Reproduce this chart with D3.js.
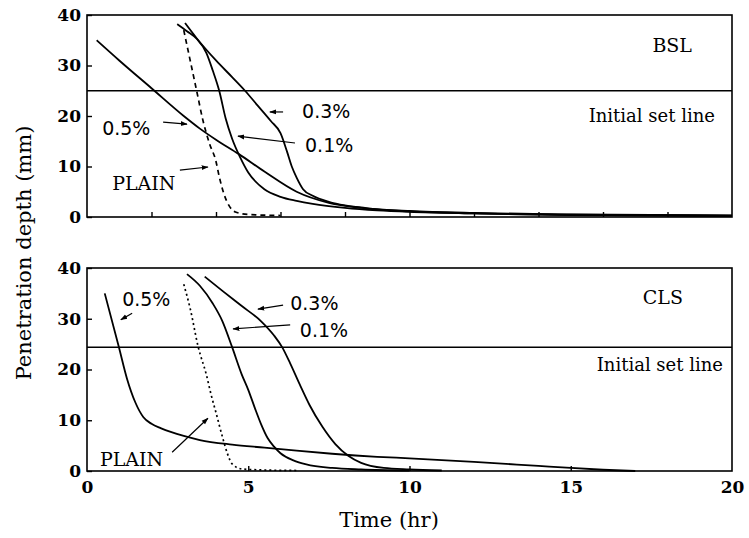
<!DOCTYPE html>
<html><head><meta charset="utf-8">
<script src="https://cdn.jsdelivr.net/npm/d3@7"></script>
<style>body{margin:0;background:#fff}</style>
</head><body>
<svg id="chart" width="749" height="538"></svg>
<script>
// ---- Data (Time hr, Penetration depth mm) ----
const xTicks = [0, 5, 10, 15, 20];
const yTicks = [0, 10, 20, 30, 40];
const panelNames = ["BSL", "CLS"];
const initialSet = [25, 24.4];

// BSL panel
const bslPlainT = [3.0, 3.2, 3.4, 3.6, 3.8, 4.0, 4.1, 4.25, 4.4, 4.6, 5.0, 6.0];
const bslPlainV = [37, 31, 25, 19, 14.5, 11, 8, 4.5, 2.3, 1.0, 0.5, 0.3];
const bsl01T = [2.8, 3.1, 3.4, 3.7, 3.9, 4.1, 4.3, 4.5, 4.75, 5.0, 5.5, 6.0, 6.5, 7.0, 8.0, 9.0, 10, 12, 15, 20];
const bsl01V = [38.2, 36.8, 35.3, 32.5, 29, 25, 19.5, 15.5, 11.8, 8.8, 5.5, 4.0, 3.2, 2.6, 1.8, 1.3, 1.0, 0.7, 0.4, 0.2];
const bsl03T = [3.04, 3.4, 4.0, 4.5, 4.9, 5.3, 5.7, 6.0, 6.2, 6.35, 6.5, 6.7, 7.0, 7.5, 8.0, 8.5, 9.0, 10, 12, 15, 20];
const bsl03V = [38.4, 35.4, 31, 27.7, 25, 22, 19, 16.6, 13, 10, 7.8, 5.5, 4.2, 3.0, 2.3, 1.9, 1.5, 1.1, 0.7, 0.45, 0.25];
const bsl05T = [0.3, 1.0, 2.0, 3.0, 3.5, 4.0, 4.7, 5.5, 6.5, 7.5, 8.5, 10, 12, 15, 20];
const bsl05V = [35, 31, 25.5, 20, 17.5, 15.3, 12.5, 9, 5, 2.8, 1.8, 1.2, 0.8, 0.5, 0.3];

// CLS panel
const clsPlainT = [3.0, 3.2, 3.45, 3.7, 3.85, 4.0, 4.2, 4.35, 4.5, 4.8, 5.5, 6.5];
const clsPlainV = [36.8, 32, 24.4, 19, 15, 11.5, 6.7, 3.5, 1.4, 0.4, 0.2, 0.1];
const cls01T = [3.1, 3.5, 3.9, 4.2, 4.5, 4.8, 5.0, 5.2, 5.4, 5.6, 5.8, 6.0, 6.4, 6.8, 7.6, 8.5, 10];
const cls01V = [38.8, 36.5, 33, 29.5, 24.4, 19, 16, 12.5, 9.2, 6.5, 4.8, 3.5, 2.1, 1.3, 0.6, 0.3, 0.1];
const cls03T = [3.65, 4.2, 4.8, 5.4, 5.8, 6.05, 6.3, 6.6, 6.9, 7.3, 7.7, 8.1, 8.5, 9.2, 10, 11];
const cls03V = [38.3, 35.5, 32.5, 29.5, 26.7, 24.4, 21.2, 17, 13, 8.7, 5.3, 3.0, 1.6, 0.6, 0.3, 0.1];
const cls05T = [0.55, 0.99, 1.24, 1.5, 1.75, 2.0, 2.3, 3.0, 3.5, 4.5, 5.5, 6.5, 7.6, 9.0, 10, 12, 14, 15, 16, 17];
const cls05V = [35, 24.4, 18.2, 13.5, 10.6, 9.3, 8.4, 6.9, 6.1, 5.2, 4.6, 4.0, 3.4, 2.8, 2.5, 1.8, 1.0, 0.6, 0.25, 0];

const panels = [
  { name: "BSL", series: [
      { t: bslPlainT, v: bslPlainV, dash: "5,4" },
      { t: bsl01T, v: bsl01V },
      { t: bsl03T, v: bsl03V },
      { t: bsl05T, v: bsl05V } ],
    notes: [
      { text: "0.3%", t: 6.67, v: 19.6, a: [6.08, 20.8, 5.67, 20.8], sans: true },
      { text: "0.1%", t: 6.76, v: 12.9, a: [6.45, 14.65, 4.68, 16.0], sans: true },
      { text: "0.5%", t: 0.47, v: 16.2, a: [2.36, 18.8, 3.1, 18.4], sans: true },
      { text: "PLAIN", t: 0.78, v: 5.35, a: [2.88, 9.3, 3.75, 9.9] } ],
    nameT: 18.76, nameV: 32.7, setT: 19.47, setV: 18.8, minorTicks: d3.range(2, 20, 2) },
  { name: "CLS", series: [
      { t: clsPlainT, v: clsPlainV, dash: "2,3" },
      { t: cls01T, v: cls01V },
      { t: cls03T, v: cls03V },
      { t: cls05T, v: cls05V } ],
    notes: [
      { text: "0.5%", t: 1.09, v: 32.5, a: [1.4, 31.1, 1.05, 29.8], sans: true },
      { text: "0.3%", t: 6.3, v: 31.7, a: [6.08, 32.7, 5.3, 31.9], sans: true },
      { text: "0.1%", t: 6.6, v: 26.4, a: [6.3, 28.8, 4.53, 28.0], sans: true },
      { text: "PLAIN", t: 0.4, v: 1.0, a: [2.64, 3.7, 3.75, 10.4] } ],
    nameT: 18.48, nameV: 32.9, setT: 19.72, setV: 19.7, minorTicks: [5, 10, 15] }
];

const svg = d3.select("#chart");
const serif = "'DejaVu Serif', serif";
const sans = "'DejaVu Sans', sans-serif";

svg.append("defs").append("marker")
  .attr("id", "arr").attr("viewBox", "0 0 10 10").attr("refX", 9).attr("refY", 5)
  .attr("markerWidth", 7).attr("markerHeight", 7).attr("markerUnits", "userSpaceOnUse")
  .attr("orient", "auto")
  .append("path").attr("d", "M0,1.5 L10,5 L0,8.5 Z").attr("fill", "#000");

const x = d3.scaleLinear().domain([0, 20]).range([87, 732]);
const panelY = [[217, 15], [471, 268]];

panels.forEach((p, i) => {
  const y = d3.scaleLinear().domain([0, 40]).range(panelY[i]);
  const g = svg.append("g");

  g.append("rect").attr("x", x(0)).attr("y", y(40)).attr("width", x(20) - x(0)).attr("height", y(0) - y(40))
    .attr("fill", "none").attr("stroke", "#000").attr("stroke-width", 1.6);

  const yAxis = d3.axisLeft(y).tickValues(yTicks).tickSize(-5).tickPadding(6).tickFormat(d3.format("d"));
  const ya = g.append("g").attr("transform", `translate(${x(0)},0)`).call(yAxis);
  ya.select(".domain").remove();
  ya.selectAll("line").attr("stroke-width", 1.4);
  ya.selectAll("text").attr("font-family", serif).attr("font-size", 17).attr("font-weight", "bold").attr("fill", "#000");

  const xAxis = d3.axisBottom(x).tickValues(p.minorTicks).tickSize(-5).tickFormat("");
  const xa = g.append("g").attr("transform", `translate(0,${y(0)})`).call(xAxis);
  xa.select(".domain").remove();
  xa.selectAll("line").attr("stroke-width", 1.4);

  if (i === 1) {
    const xl = d3.axisBottom(x).tickValues(xTicks).tickSize(0).tickPadding(10).tickFormat(d3.format("d"));
    const xb = g.append("g").attr("transform", `translate(0,${y(0)})`).call(xl);
    xb.select(".domain").remove();
    xb.selectAll("text").attr("font-family", serif).attr("font-size", 17).attr("font-weight", "bold").attr("fill", "#000");
  }

  g.append("line").attr("x1", x(0)).attr("x2", x(20)).attr("y1", y(initialSet[i])).attr("y2", y(initialSet[i]))
    .attr("stroke", "#000").attr("stroke-width", 1.5);

  const line = d3.line().x(d => x(d[0])).y(d => y(d[1])).curve(d3.curveMonotoneX);
  p.series.forEach(s => {
    const pts = s.t.map((t, k) => [t, s.v[k]]);
    g.append("path").attr("d", line(pts)).attr("fill", "none").attr("stroke", "#000")
      .attr("stroke-width", s.dash ? 1.7 : 1.8).attr("stroke-dasharray", s.dash || null);
  });

  p.notes.forEach(n => {
    g.append("text").attr("x", x(n.t)).attr("y", y(n.v)).text(n.text)
      .attr("font-family", n.sans ? sans : serif).attr("font-size", 19).attr("fill", "#000");
    g.append("line").attr("x1", x(n.a[0])).attr("y1", y(n.a[1])).attr("x2", x(n.a[2])).attr("y2", y(n.a[3]))
      .attr("stroke", "#000").attr("stroke-width", 1.2).attr("marker-end", "url(#arr)");
  });

  g.append("text").attr("x", x(p.nameT)).attr("y", y(p.nameV)).attr("text-anchor", "end").text(p.name)
    .attr("font-family", serif).attr("font-size", 19).attr("fill", "#000");
  g.append("text").attr("x", x(p.setT)).attr("y", y(p.setV)).attr("text-anchor", "end").text("Initial set line")
    .attr("font-family", serif).attr("font-size", 18).attr("fill", "#000");
});

svg.append("text").attr("transform", "translate(31,253) rotate(-90)").attr("text-anchor", "middle")
  .text("Penetration depth (mm)").attr("font-family", serif).attr("font-size", 21).attr("fill", "#000");
svg.append("text").attr("x", 389).attr("y", 527).attr("text-anchor", "middle")
  .text("Time (hr)").attr("font-family", serif).attr("font-size", 21).attr("fill", "#000");
</script>
</body></html>
